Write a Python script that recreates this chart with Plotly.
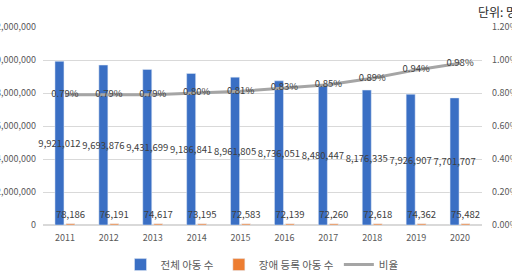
import plotly.graph_objects as go

years = ["2011", "2012", "2013", "2014", "2015", "2016", "2017", "2018", "2019", "2020"]
total_children = [9921012, 9693876, 9431699, 9186841, 8961805, 8736051, 8480447, 8176335, 7926907, 7701707]
disabled_children = [78186, 76191, 74617, 73195, 72583, 72139, 72260, 72618, 74362, 75482]
ratio = [0.0079, 0.0079, 0.0079, 0.0080, 0.0081, 0.0083, 0.0085, 0.0089, 0.0094, 0.0098]
left_ticks = [0, 2000000, 4000000, 6000000, 8000000, 10000000, 12000000]
right_ticks = [0, 0.002, 0.004, 0.006, 0.008, 0.010, 0.012]

FONT = "Malgun Gothic, Noto Sans CJK KR, sans-serif"
LABEL = "#404040"
TICK = "#595959"

fig = go.Figure()
fig.add_trace(go.Bar(
    x=years, y=total_children, name="전체 아동 수",
    marker_color="#3A6FC4",
    text=[f"{v:,}" for v in total_children],
    textposition="inside", insidetextanchor="middle",
    constraintext="none", textangle=0,
    textfont=dict(color=LABEL, size=9.5, family=FONT),
    cliponaxis=False,
))
fig.add_trace(go.Bar(
    x=years, y=disabled_children, name="장애 등록 아동 수",
    marker_color="#ED7D31",
    text=[f"{v:,}" for v in disabled_children],
    textposition="outside", constraintext="none", textangle=0,
    textfont=dict(color=LABEL, size=9.5, family=FONT),
    cliponaxis=False,
))
fig.add_trace(go.Scatter(
    x=years, y=ratio, name="비율", yaxis="y2",
    mode="lines+text",
    line=dict(color="#A5A5A5", width=3),
    text=[f"{v*100:.2f}%" for v in ratio],
    textposition="middle center",
    textfont=dict(color=LABEL, size=9.5, family=FONT),
    cliponaxis=False,
))

fig.update_layout(
    width=512, height=275,
    margin=dict(l=43, r=30, t=27, b=50, autoexpand=False),
    paper_bgcolor="white", plot_bgcolor="white",
    font=dict(family=FONT, size=9, color=TICK),
    barmode="group", bargap=0.5, bargroupgap=0.18,
    showlegend=True,
    legend=dict(orientation="h", x=0.5, xanchor="center", y=-0.2, yanchor="middle",
                font=dict(size=10.5, color=TICK), itemwidth=30, tracegroupgap=0),
    xaxis=dict(showgrid=False, showline=False, ticks="", ticklabelstandoff=6,
               tickfont=dict(size=9, color=TICK)),
    yaxis=dict(range=[0, 12000000], tickvals=left_ticks, tickformat=",d",
               showgrid=True, gridcolor="#D9D9D9", gridwidth=1,
               zeroline=True, zerolinecolor="#D9D9D9",
               automargin=False, ticks="", ticklabelstandoff=6,
               tickfont=dict(size=9, color=TICK)),
    yaxis2=dict(range=[0, 0.012], tickvals=right_ticks, tickformat=".2%",
                overlaying="y", side="right", showgrid=False, zeroline=False,
                automargin=False, ticks="", ticklabelstandoff=9,
                tickfont=dict(size=9, color=TICK)),
    annotations=[dict(text="단위: 명", xref="paper", yref="paper", x=(476 - 43) / 439, y=1.08,
                      xanchor="left", yanchor="middle", showarrow=False,
                      font=dict(size=12, color="#262626", family=FONT))],
)

fig.write_html("out.html")
